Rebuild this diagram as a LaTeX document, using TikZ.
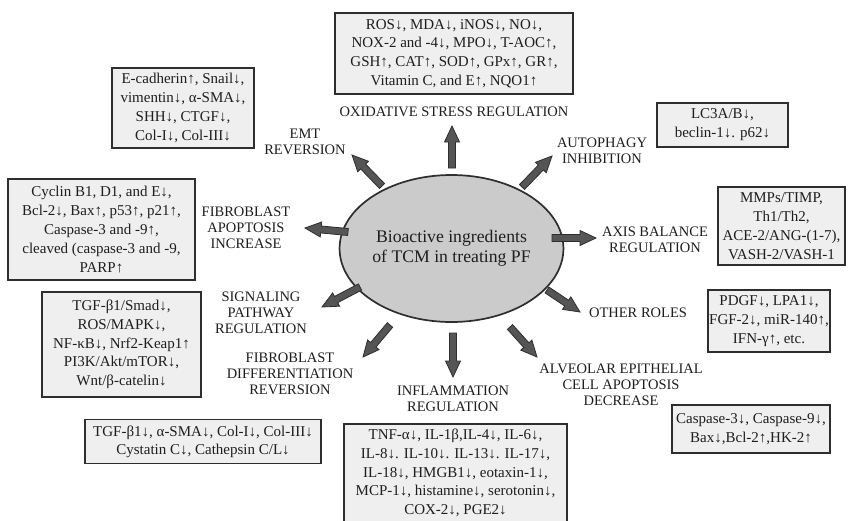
\documentclass[tikz,border=0pt]{standalone}
\usepackage{fontspec}
\setmainfont{Liberation Serif}
\usetikzlibrary{calc,shapes.geometric}
\definecolor{boxfill}{HTML}{EFEFEF}
\definecolor{boxline}{HTML}{2E2E2E}
\definecolor{ellfill}{HTML}{CBCBCB}
\definecolor{arrfill}{HTML}{555555}
\definecolor{txt}{HTML}{1E1E1E}
\tikzset{
  infobox/.style={draw=boxline, line width=1.7pt, fill=boxfill, align=center, inner sep=0pt,
    font=\fontsize{15}{18.8}\selectfont, text=txt},
  catlabel/.style={align=center, inner sep=0pt, font=\fontsize{14.5}{16}\selectfont, text=txt},
  blockarrow/.style={draw=boxline, line width=0.8pt, fill=arrfill, line join=miter},
  centre/.style={ellipse, draw=boxline, line width=1.7pt, fill=ellfill, align=center,
    font=\fontsize{17.7}{20.5}\selectfont, text=txt, inner sep=0pt},
}
\newcommand{\barrow}[2]{%
  \path ($(#2)!16pt!(#1)$) coordinate (#2-b);
  \draw[blockarrow] ($(#1)!3.5pt!90:(#2)$) -- ($(#2-b)!3.5pt!90:(#2)$) -- ($(#2-b)!7.5pt!90:(#2)$)
    -- (#2) -- ($(#2-b)!7.5pt!-90:(#2)$) -- ($(#2-b)!3.5pt!-90:(#2)$) -- ($(#1)!3.5pt!-90:(#2)$) -- cycle;
}
\begin{document}
\begin{tikzpicture}[x=1pt,y=-1pt]
\useasboundingbox[fill=white] (0,0) rectangle (848,520);

% centre
\node[centre, minimum width=187pt, minimum height=147pt] (core) at (451.5,248.5)
  {Bioactive ingredients\\of TCM in treating PF};

% boxes
\node[infobox, minimum width=238pt, minimum height=81pt] (ox) at (454,53.5)
  {ROS↓, MDA↓, iNOS↓, NO↓,\\NOX-2 and -4↓, MPO↓, T-AOC↑,\\GSH↑, CAT↑, SOD↑, GPx↑, GR↑,\\Vitamin C, and E↑, NQO1↑};
\node[infobox, minimum width=142pt, minimum height=80pt] (emt) at (183,108)
  {E-cadherin↑, Snail↓,\\vimentin↓, α-SMA↓,\\SHH↓, CTGF↓,\\Col-I↓, Col-III↓};
\node[infobox, minimum width=131pt, minimum height=44pt] (auto) at (722.5,125)
  {LC3A/B↓,\\beclin-1↓. p62↓};
\node[infobox, minimum width=187pt, minimum height=101pt] (apop) at (101.5,229.5)
  {Cyclin B1, D1, and E↓,\\Bcl-2↓, Bax↑, p53↑, p21↑,\\Caspase-3 and -9↑,\\cleaved (caspase-3 and -9,\\PARP↑};
\node[infobox, minimum width=127pt, minimum height=78pt] (axis) at (781.5,226)
  {MMPs/TIMP,\\Th1/Th2,\\ACE-2/ANG-(1-7),\\VASH-2/VASH-1};
\node[infobox, minimum width=122pt, minimum height=62pt] (other) at (769,321)
  {PDGF↓, LPA1↓,\\FGF-2↓, miR-140↑,\\IFN-γ↑, etc.};
\node[infobox, minimum width=159pt, minimum height=105pt] (sig) at (121.5,344.5)
  {TGF-β1/Smad↓,\\ROS/MAPK↓,\\NF-κB↓, Nrf2-Keap1↑\\PI3K/Akt/mTOR↓,\\Wnt/β-catelin↓};
\node[infobox, minimum width=236pt, minimum height=44pt, font=\fontsize{15}{18}\selectfont] (diff) at (203,441.5)
  {TGF-β1↓, α-SMA↓, Col-I↓, Col-III↓\\Cystatin C↓, Cathepsin C/L↓};
\node[infobox, minimum width=223pt, minimum height=98pt] (infl) at (455.5,473)
  {TNF-α↓, IL-1β,IL-4↓, IL-6↓,\\IL-8↓. IL-10↓. IL-13↓. IL-17↓,\\IL-18↓, HMGB1↓, eotaxin-1↓,\\MCP-1↓, histamine↓, serotonin↓,\\COX-2↓, PGE2↓};
\node[infobox, minimum width=158pt, minimum height=48pt] (alv) at (751,429)
  {Caspase-3↓, Caspase-9↓,\\Bax↓,Bcl-2↑,HK-2↑};

% category labels
\node[catlabel] (lox) at (454,112) {OXIDATIVE STRESS REGULATION};
\node[catlabel] (lemt) at (305,142) {EMT\\REVERSION};
\node[catlabel] (lauto) at (602,151) {AUTOPHAGY\\INHIBITION};
\node[catlabel] (lapop) at (246,228) {FIBROBLAST\\APOPTOSIS\\INCREASE};
\node[catlabel] (laxis) at (655,240) {AXIS BALANCE\\REGULATION};
\node[catlabel] (lother) at (638,313) {OTHER ROLES};
\node[catlabel] (lsig) at (261,313) {SIGNALING\\PATHWAY\\REGULATION};
\node[catlabel] (ldiff) at (290,374) {FIBROBLAST\\DIFFERENTIATION\\REVERSION};
\node[catlabel] (linfl) at (453,399) {INFLAMMATION\\REGULATION};
\node[catlabel] (lalv) at (621,385) {ALVEOLAR EPITHELIAL\\CELL APOPTOSIS\\DECREASE};

% arrow ends
\coordinate (t1) at (452,168); \coordinate (h1) at (452,126);
\coordinate (t2) at (522,187); \coordinate (h2) at (552,156);
\coordinate (t3) at (382,186); \coordinate (h3) at (352,155);
\coordinate (t4) at (348,232); \coordinate (h4) at (305,228);
\coordinate (t5) at (552,238); \coordinate (h5) at (596,238);
\coordinate (t6) at (360,287); \coordinate (h6) at (322,307);
\coordinate (t7) at (390,325); \coordinate (h7) at (363,357);
\coordinate (t8) at (453,333); \coordinate (h8) at (453,377);
\coordinate (t9) at (510,327); \coordinate (h9) at (537,357);
\coordinate (t10) at (547,290); \coordinate (h10) at (580,312);
\barrow{t1}{h1}
\barrow{t2}{h2}
\barrow{t3}{h3}
\barrow{t4}{h4}
\barrow{t5}{h5}
\barrow{t6}{h6}
\barrow{t7}{h7}
\barrow{t8}{h8}
\barrow{t9}{h9}
\barrow{t10}{h10}
\end{tikzpicture}
\end{document}
